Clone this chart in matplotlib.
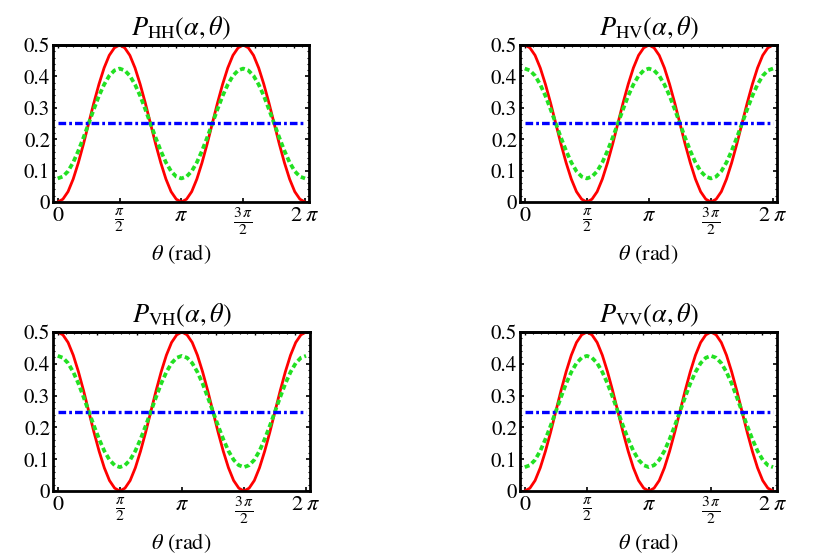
import numpy as np
import matplotlib
matplotlib.use('Agg')
import matplotlib.pyplot as plt
from matplotlib.ticker import MultipleLocator

plt.rcParams['font.family'] = 'STIXGeneral'
plt.rcParams['mathtext.fontset'] = 'stix'
plt.rcParams['font.size'] = 15
plt.rcParams['lines.scale_dashes'] = False

# sampled every pi/24 from 0 to 2 pi
theta = np.linspace(0, 2 * np.pi, 49)

red_hh = [0, .009, .033, .073, .125, .185, .25, .315, .375, .427, .467, .491, .5,
          .491, .467, .427, .375, .315, .25, .185, .125, .073, .033, .009, 0,
          .009, .033, .073, .125, .185, .25, .315, .375, .427, .467, .491, .5,
          .491, .467, .427, .375, .315, .25, .185, .125, .073, .033, .009, 0]
green_hh = [.075, .081, .098, .126, .163, .205, .25, .295, .338, .374, .402, .419, .425,
            .419, .402, .374, .338, .295, .25, .205, .163, .126, .098, .081, .075,
            .081, .098, .126, .163, .205, .25, .295, .338, .374, .402, .419, .425,
            .419, .402, .374, .338, .295, .25, .205, .163, .126, .098, .081, .075]
red_hv = [.5, .491, .467, .427, .375, .315, .25, .185, .125, .073, .033, .009, 0,
          .009, .033, .073, .125, .185, .25, .315, .375, .427, .467, .491, .5,
          .491, .467, .427, .375, .315, .25, .185, .125, .073, .033, .009, 0,
          .009, .033, .073, .125, .185, .25, .315, .375, .427, .467, .491, .5]
green_hv = [.425, .419, .402, .374, .338, .295, .25, .205, .163, .126, .098, .081, .075,
            .081, .098, .126, .163, .205, .25, .295, .338, .374, .402, .419, .425,
            .419, .402, .374, .338, .295, .25, .205, .163, .126, .098, .081, .075,
            .081, .098, .126, .163, .205, .25, .295, .338, .374, .402, .419, .425]
blue_level = 0.25

panels = [('HH', red_hh, green_hh), ('HV', red_hv, green_hv),
          ('VH', red_hv, green_hv), ('VV', red_hh, green_hh)]

xtick_pos = [0, np.pi / 2, np.pi, 3 * np.pi / 2, 2 * np.pi]
xtick_lab = ['0', r'$\frac{\pi}{2}$', r'$\pi$', r'$\frac{3\,\pi}{2}$', r'$2\;\pi$']
ytick_pos = [0, 0.1, 0.2, 0.3, 0.4, 0.5]
ytick_lab = ['0', '0.1', '0.2', '0.3', '0.4', '0.5']

W, H = 817, 559
fig = plt.figure(figsize=(W / 100, H / 100), dpi=100)
# axes boxes in pixels: left, top, right, bottom
boxes = [(53, 45, 309, 202), (520, 45, 777, 202),
         (53, 332, 310, 491), (520, 332, 777, 491)]

for (sub, red, green), (l, t, r, b) in zip(panels, boxes):
    ax = fig.add_axes([l / W, 1 - b / H, (r - l) / W, (b - t) / H])
    ax.plot(theta, red, color='#ff0000', lw=2.0, zorder=2)
    ax.plot(theta, green, color='#22e022', lw=2.7, ls=(0, (3.6, 2.2)), zorder=3)
    ax.plot(theta, np.full_like(theta, blue_level), color='#0000ff', lw=2.4,
            ls=(0, (5.5, 2.2, 2, 2.2)), zorder=4)
    ax.set_xlim(-0.12, 2 * np.pi + 0.1)
    ax.set_ylim(0, 0.5)
    ax.set_xticks(xtick_pos)
    ax.set_xticklabels(xtick_lab, fontsize=16)
    ax.set_yticks(ytick_pos)
    ax.set_yticklabels(ytick_lab)
    ax.yaxis.set_minor_locator(MultipleLocator(0.02))
    ax.tick_params(which='major', direction='in', length=3, width=1.2, pad=3,
                   top=False, right=True)
    ax.tick_params(which='minor', direction='in', length=1.5, width=0.8,
                   right=True)
    ax.tick_params(axis='y', pad=2)
    # small ticks on top frame
    sec = ax.secondary_xaxis('top')
    sec.set_xticks(np.arange(0, 6.3, 1.0))
    sec.set_xticklabels([])
    sec.xaxis.set_minor_locator(MultipleLocator(0.2))
    sec.tick_params(which='major', direction='in', length=2.5, width=1)
    sec.tick_params(which='minor', direction='in', length=1.5, width=0.8)
    sec.spines['top'].set_linewidth(2)
    for s in ax.spines.values():
        s.set_linewidth(2)
    ax.set_title(r'$P_{\mathrm{' + sub + r'}}(\alpha,\theta)$', fontsize=19, pad=7)
    ax.set_xlabel(r'$\theta$ (rad)', fontsize=16, labelpad=4)

fig.savefig('out.png', dpi=100)
